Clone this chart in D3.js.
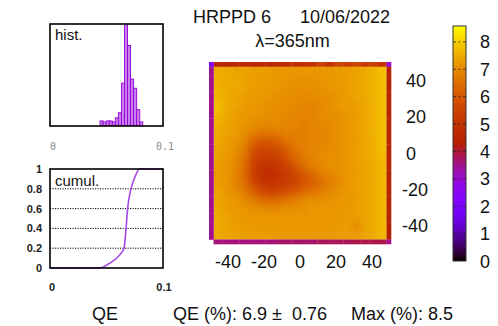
<!DOCTYPE html>
<html>
<head>
<meta charset="utf-8">
<script src="https://cdn.jsdelivr.net/npm/d3@7"></script>
<style>
  html, body { margin: 0; padding: 0; background: #fff; }
  svg { display: block; font-family: "Liberation Sans", Arial, sans-serif; }
</style>
</head>
<body>
<svg id="chart" width="498" height="326"></svg>
<script>
// ---- histogram of QE per pad (bin centres, relative counts) ----
const histQE = [0.04565, 0.04835, 0.05105, 0.05375, 0.05645, 0.05915, 0.06185,
                0.06455, 0.06725, 0.06995, 0.07265, 0.07535, 0.07805, 0.08075];
const histCounts = [5, 4, 5, 5, 4, 8, 13, 42, 100, 79, 46, 37, 16, 4];
const histBinWidth = 0.0027;

// ---- cumulative distribution ----
const cumulQE   = [0, 0.0437, 0.0531, 0.0619, 0.0655, 0.0673, 0.0687, 0.0717, 0.0752, 0.0791, 0.1];
const cumulFrac = [0, 0,      0.05,   0.135,  0.2,    0.4,    0.6,    0.8,    0.92,   1,      1];
const cumulTicks = [0, 0.2, 0.4, 0.6, 0.8, 1];
const cumulGrid = [0.2, 0.4, 0.6, 0.8];
const qeAxisTicks = [0, 0.1];

// ---- QE map (%), rows from y=+48 down to y=-48, columns x=-48 .. +48 ----
const qeMap = [
  [7.5,7.5,7.4,7.4,7.3,7.3,7.3,7.2,7.2,7.2,7.2,7.2,7.2,7.2,7.3,7.3,7.4,7.5,7.6,7.8],
  [7.6,7.5,7.5,7.4,7.3,7.3,7.3,7.2,7.2,7.1,7.1,7.1,7.2,7.2,7.3,7.3,7.4,7.5,7.6,7.8],
  [7.6,7.5,7.5,7.4,7.3,7.3,7.2,7.2,7.1,7.1,7.1,7.1,7.1,7.2,7.2,7.3,7.4,7.5,7.6,7.8],
  [7.7,7.5,7.4,7.3,7.3,7.2,7.2,7.1,7.1,7.0,7.0,7.0,7.1,7.1,7.2,7.3,7.4,7.5,7.6,7.8],
  [7.8,7.5,7.4,7.3,7.2,7.2,7.1,7.1,7.0,7.0,6.9,6.9,7.0,7.1,7.2,7.3,7.3,7.4,7.6,7.8],
  [7.7,7.5,7.3,7.2,7.2,7.1,7.1,7.0,7.0,6.9,6.9,6.9,7.0,7.1,7.1,7.2,7.3,7.4,7.6,7.8],
  [7.6,7.4,7.3,7.2,7.1,7.0,7.0,7.0,6.9,6.9,6.8,6.9,7.0,7.0,7.1,7.2,7.3,7.4,7.6,7.8],
  [7.5,7.4,7.3,7.1,6.9,6.7,6.7,6.8,6.9,6.8,6.8,6.9,6.9,7.0,7.1,7.2,7.3,7.4,7.6,7.8],
  [7.5,7.3,7.2,6.9,6.4,6.1,6.1,6.3,6.6,6.8,6.8,6.9,6.9,7.0,7.1,7.2,7.3,7.4,7.6,7.8],
  [7.4,7.3,7.1,6.8,6.0,5.6,5.6,5.8,6.2,6.6,6.8,6.9,7.0,7.0,7.1,7.2,7.3,7.4,7.6,7.8],
  [7.4,7.2,7.0,6.6,5.6,5.3,5.3,5.5,5.9,6.4,6.7,6.9,7.0,7.1,7.1,7.2,7.3,7.4,7.6,7.7],
  [7.3,7.2,7.0,6.5,5.5,5.1,5.0,5.2,5.5,6.0,6.5,6.8,7.0,7.1,7.1,7.2,7.3,7.4,7.5,7.7],
  [7.3,7.2,6.9,6.4,5.5,5.0,4.9,5.0,5.3,5.6,6.0,6.4,6.7,6.9,7.1,7.2,7.3,7.4,7.5,7.7],
  [7.3,7.2,6.9,6.5,5.7,5.2,5.0,5.1,5.3,5.6,5.9,6.2,6.5,6.8,7.0,7.2,7.3,7.4,7.5,7.7],
  [7.4,7.2,7.0,6.8,6.2,5.7,5.5,5.6,5.8,6.1,6.4,6.6,6.8,7.0,7.1,7.2,7.3,7.4,7.5,7.7],
  [7.4,7.3,7.2,7.0,6.8,6.5,6.4,6.5,6.6,6.8,7.0,7.1,7.1,7.1,7.2,7.2,7.3,7.4,7.5,7.7],
  [7.5,7.3,7.2,7.2,7.1,7.0,7.0,7.0,7.1,7.1,7.1,7.2,7.2,7.2,7.2,7.2,7.3,7.4,7.5,7.7],
  [7.5,7.4,7.3,7.2,7.2,7.2,7.2,7.2,7.2,7.2,7.2,7.2,7.2,7.2,7.2,7.3,7.3,7.4,7.5,7.7],
  [7.5,7.4,7.3,7.3,7.2,7.2,7.2,7.2,7.2,7.2,7.2,7.2,7.2,7.2,7.2,7.3,6.9,7.4,7.5,7.7],
  [7.5,7.4,7.4,7.3,7.3,7.3,7.3,7.2,7.2,7.2,7.2,7.2,7.2,7.2,7.3,7.3,7.3,7.4,7.5,7.7]
];
// edge ring of the pad (lower response at the frame)
const edgeTop    = [4.5,4.5,4.6,4.6,4.5,4.6,4.6,4.7,4.7,4.8,4.9,5.0,5.4,5.0,5.5,5.3,5.6,5.2,5.4,5.0];
const edgeBottom = [3.6,3.6,3.6,3.6,3.6,3.6,3.6,3.7,3.7,3.7,3.7,3.7,3.8,3.8,3.8,3.8,3.9,3.9,3.9,3.9];
const edgeLeft   = [3.5,3.5,3.5,3.5,3.5,3.5,3.5,3.5,3.5,3.5,3.5,3.5,3.5,3.5,3.5,3.5,3.5,3.5,3.5,3.5];
const edgeRight  = [4.4,4.4,4.4,4.5,4.5,4.5,4.5,4.5,4.5,4.5,4.5,4.5,4.4,4.4,4.4,4.4,4.4,4.3,4.3,4.3];
const edgeCorners = { tl: 2.3, tr: 3.0, bl: null, br: 3.5 };

const mapTicks = [-40, -20, 0, 20, 40];
const cbTicks = [0, 1, 2, 3, 4, 5, 6, 7, 8];
const cbMax = 8.58;

const titleDevice = "HRPPD 6";
const titleDate = "10/06/2022";
const titleWave = "λ=365nm";
const footLeft = "QE";
const footMean = "QE (%): 6.9 ±";
const footSpread = "0.76";
const footMax = "Max (%): 8.5";

// ---- gnuplot rgbformulae 7,5,15 palette ----
function palette(v) {
  const x = Math.max(0, Math.min(1, v / cbMax));
  const r = Math.sqrt(x), g = x * x * x, b = Math.max(0, Math.sin(2 * Math.PI * x));
  return d3.rgb(r * 255, g * 255, b * 255).formatHex();
}

const svg = d3.select("#chart");
svg.append("rect").attr("width", 498).attr("height", 326).attr("fill", "#fff");
const defs = svg.append("defs");

// ================= histogram panel =================
const hx = d3.scaleLinear().domain([0, 0.1]).range([50, 163]);
const hy = d3.scaleLinear().domain([0, 100]).range([126, 24]);
defs.append("clipPath").attr("id", "histClip")
  .append("rect").attr("x", 50).attr("y", 24).attr("width", 113).attr("height", 102);
svg.append("g").attr("clip-path", "url(#histClip)")
  .selectAll("rect").data(histQE).join("rect")
  .attr("x", d => hx(d - histBinWidth / 2))
  .attr("width", hx(histBinWidth) - hx(0))
  .attr("y", (d, i) => hy(histCounts[i]))
  .attr("height", (d, i) => hy(0) - hy(histCounts[i]))
  .attr("fill", "#c97ff0")
  .attr("stroke", "#9400d3")
  .attr("stroke-width", 0.9);
svg.append("rect").attr("x", 50).attr("y", 24).attr("width", 113).attr("height", 102)
  .attr("fill", "none").attr("stroke", "#000").attr("stroke-width", 1.6);
svg.append("text").attr("x", 55).attr("y", 40).attr("font-size", 15).attr("fill", "#111").text("hist.");
svg.append("g").selectAll("text").data(qeAxisTicks).join("text")
  .attr("x", d => hx(d) + (d === 0 ? 3 : 2)).attr("y", 150)
  .attr("text-anchor", "middle")
  .attr("font-family", "'DejaVu Sans Mono', monospace")
  .attr("font-size", 10).attr("fill", "#8a8a8a")
  .text(d => d === 0 ? "0" : "0.1");

// ================= cumulative panel =================
const cy = d3.scaleLinear().domain([0, 1]).range([268, 169]);
svg.append("g").selectAll("line").data(cumulGrid).join("line")
  .attr("x1", hx(0)).attr("x2", hx(0.1))
  .attr("y1", d => cy(d)).attr("y2", d => cy(d))
  .attr("stroke", "#000").attr("stroke-width", 1).attr("stroke-dasharray", "1.2,1.3");
const cumulLine = d3.line()
  .x((d, i) => hx(d)).y((d, i) => cy(cumulFrac[i]))
  .curve(d3.curveMonotoneX);
svg.append("path").attr("d", cumulLine(cumulQE))
  .attr("fill", "none").attr("stroke", "#a547e6").attr("stroke-width", 1.6);
svg.append("rect").attr("x", 50).attr("y", 169).attr("width", 113).attr("height", 99)
  .attr("fill", "none").attr("stroke", "#000").attr("stroke-width", 1.6);
svg.append("text").attr("x", 55).attr("y", 186).attr("font-size", 15).attr("fill", "#111").text("cumul.");
svg.append("g").selectAll("text").data(cumulTicks).join("text")
  .attr("x", 42).attr("y", d => cy(d) + 4)
  .attr("text-anchor", "end").attr("font-size", 11).attr("font-weight", "bold").attr("fill", "#222")
  .text(d => d3.format("")(d));
svg.append("g").selectAll("text").data(qeAxisTicks).join("text")
  .attr("x", d => hx(d) + (d === 0 ? 2 : 1)).attr("y", 291)
  .attr("text-anchor", "middle").attr("font-size", 11).attr("font-weight", "bold").attr("fill", "#222")
  .text(d => d3.format("")(d));

// ================= QE map =================
const mx = d3.scaleLinear().domain([-50.5, 50.5]).range([209, 391]);
const my = d3.scaleLinear().domain([-50.5, 50.5]).range([244, 62]);
const inner = 48, outer = 50.5;
const nCell = qeMap.length;
const cellMM = (2 * inner) / nCell;
const cells = [];
qeMap.forEach((row, r) => row.forEach((v, c) => cells.push({ r, c, v })));

const cellX0 = c => -inner + c * cellMM;
const cellY1 = r => inner - r * cellMM;

function drawCells(g) {
  g.selectAll("rect").data(cells).join("rect")
    .attr("x", d => mx(cellX0(d.c)))
    .attr("y", d => my(cellY1(d.r)))
    .attr("width", d => mx(cellX0(d.c) + cellMM) - mx(cellX0(d.c)) + 0.4)
    .attr("height", d => my(cellY1(d.r) - cellMM) - my(cellY1(d.r)) + 0.4)
    .attr("fill", d => palette(d.v));
}
defs.append("clipPath").attr("id", "mapInner")
  .append("rect").attr("x", mx(-inner)).attr("y", my(inner))
  .attr("width", mx(inner) - mx(-inner)).attr("height", my(-inner) - my(inner));
const smooth = defs.append("filter").attr("id", "smooth")
  .attr("x", "-10%").attr("y", "-10%").attr("width", "120%").attr("height", "120%");
smooth.append("feGaussianBlur").attr("stdDeviation", 3.2);

const mapG = svg.append("g").attr("clip-path", "url(#mapInner)");
drawCells(mapG.append("g"));
drawCells(mapG.append("g").attr("filter", "url(#smooth)"));

// edge ring
const edgeCells = [];
edgeTop.forEach((v, c) => edgeCells.push({ x0: cellX0(c), x1: cellX0(c) + cellMM, y0: inner, y1: outer, v }));
edgeBottom.forEach((v, c) => edgeCells.push({ x0: cellX0(c), x1: cellX0(c) + cellMM, y0: -outer, y1: -inner, v }));
edgeLeft.forEach((v, r) => edgeCells.push({ x0: -outer, x1: -inner, y0: cellY1(r) - cellMM, y1: cellY1(r), v }));
edgeRight.forEach((v, r) => edgeCells.push({ x0: inner, x1: outer, y0: cellY1(r) - cellMM, y1: cellY1(r), v }));
edgeCells.push({ x0: -outer, x1: -inner, y0: inner, y1: outer, v: edgeCorners.tl });
edgeCells.push({ x0: inner, x1: outer, y0: inner, y1: outer, v: edgeCorners.tr });
edgeCells.push({ x0: -outer, x1: -inner, y0: -outer, y1: -inner, v: edgeCorners.bl });
edgeCells.push({ x0: inner, x1: outer, y0: -outer, y1: -inner, v: edgeCorners.br });
svg.append("g").selectAll("rect").data(edgeCells.filter(d => d.v !== null)).join("rect")
  .attr("x", d => mx(d.x0)).attr("y", d => my(d.y1))
  .attr("width", d => mx(d.x1) - mx(d.x0) + 0.3)
  .attr("height", d => my(d.y0) - my(d.y1) + 0.3)
  .attr("fill", d => palette(d.v));

// map tick labels
svg.append("g").selectAll("text").data(mapTicks).join("text")
  .attr("x", d => mx(d)).attr("y", 268)
  .attr("text-anchor", "middle").attr("font-size", 18).attr("fill", "#111")
  .text(d => d3.format("")(d).replace("−", "-"));
svg.append("g").selectAll("text").data(mapTicks).join("text")
  .attr("x", d => d < 0 ? 402 : 406).attr("y", d => my(d) + 6.5)
  .attr("text-anchor", "start").attr("font-size", 18).attr("fill", "#111")
  .text(d => d3.format("")(d).replace("−", "-"));

// ================= colour box =================
const cb = d3.scaleLinear().domain([0, cbMax]).range([261, 26]);
const grad = defs.append("linearGradient").attr("id", "cbGrad")
  .attr("x1", 0).attr("y1", 1).attr("x2", 0).attr("y2", 0);
d3.range(0, 61).forEach(i => {
  const v = cbMax * i / 60;
  grad.append("stop").attr("offset", i / 60).attr("stop-color", palette(v));
});
svg.append("rect").attr("x", 453).attr("y", cb(cbMax)).attr("width", 13).attr("height", cb(0) - cb(cbMax))
  .attr("fill", "url(#cbGrad)").attr("stroke", "#333").attr("stroke-width", 1);
svg.append("g").selectAll("line").data(cbTicks.filter(d => d > 0)).join("line")
  .attr("x1", 453).attr("x2", 466).attr("y1", d => cb(d)).attr("y2", d => cb(d))
  .attr("stroke", "#222").attr("stroke-opacity", 0.75).attr("stroke-width", 1)
  .attr("stroke-dasharray", "3,2.5,2,2.5,3");
svg.append("g").selectAll("text").data(cbTicks).join("text")
  .attr("x", 480).attr("y", d => cb(d) + 6.5)
  .attr("font-size", 18).attr("fill", "#111")
  .text(d => d);

// ================= titles =================
svg.append("text").attr("x", 193).attr("y", 23).attr("font-size", 18).attr("fill", "#111").text(titleDevice);
svg.append("text").attr("x", 390).attr("y", 23).attr("text-anchor", "end").attr("font-size", 18).attr("fill", "#111").text(titleDate);
svg.append("text").attr("x", 292.5).attr("y", 47).attr("text-anchor", "middle").attr("font-size", 18).attr("fill", "#111").text(titleWave);
svg.append("text").attr("x", 105).attr("y", 320).attr("text-anchor", "middle").attr("font-size", 18).attr("fill", "#111").text(footLeft);
svg.append("text").attr("x", 282).attr("y", 320).attr("text-anchor", "end").attr("font-size", 18).attr("fill", "#111").text(footMean);
svg.append("text").attr("x", 292).attr("y", 320).attr("font-size", 18).attr("fill", "#111").text(footSpread);
svg.append("text").attr("x", 453).attr("y", 320).attr("text-anchor", "end").attr("font-size", 18).attr("fill", "#111").text(footMax);
</script>
</body>
</html>
